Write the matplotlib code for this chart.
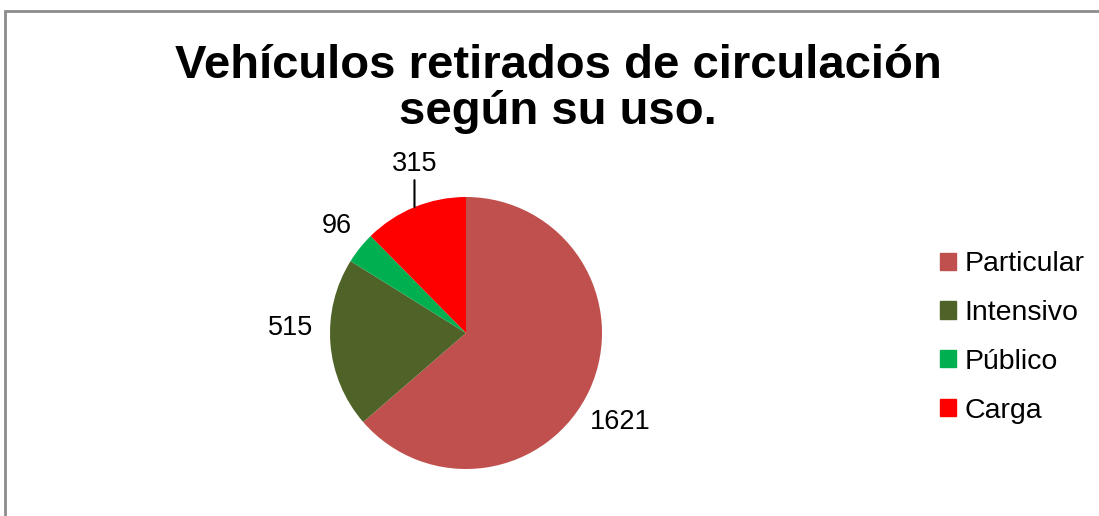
import matplotlib.pyplot as plt
import matplotlib.patches as mpatches
import numpy as np

plt.rcParams['font.family'] = ['Liberation Sans', 'DejaVu Sans']

# datos
categorias = ['Particular', 'Intensivo', 'Público', 'Carga']
vehiculos = [1621, 515, 96, 315]
colores = ['#C0504D', '#4F6228', '#00B050', '#FF0000']

titulo = 'Vehículos retirados de circulación\nsegún su uso.'

W, H = 1099, 516
fig = plt.figure(figsize=(W / 100, H / 100), dpi=100)

# marco gris (cortado a la derecha y abajo)
fig.patches.append(mpatches.Rectangle((5 / W, -0.1), 1.2, (H - 11) / H + 0.1,
                                      transform=fig.transFigure, fill=False,
                                      edgecolor='#8c8c8c', lw=2))

fig.text(558 / W, 1 - 89 / H, titulo, ha='center', va='center',
         fontsize=34, fontweight='bold', linespacing=1.06)

# pastel
cx, cy, r = 466, 333, 136
ax = fig.add_axes([(cx - r) / W, (H - cy - r) / H, 2 * r / W, 2 * r / H])
wedges, _ = ax.pie(vehiculos, colors=colores, startangle=90, counterclock=False,
                   radius=1)
ax.set_xlim(-1, 1)
ax.set_ylim(-1, 1)
ax.axis('off')

# etiquetas
ajuste_ang = [-5.5, -6, -1, 0]
dist = [1.31, 1.29, 1.23, 1.24]
for i, w in enumerate(wedges):
    mid = np.deg2rad((w.theta1 + w.theta2) / 2 + ajuste_ang[i])
    x, y = dist[i] * np.cos(mid), dist[i] * np.sin(mid)
    if categorias[i] == 'Carga':
        ex, ey = np.cos(mid), np.sin(mid)
        ax.annotate(str(vehiculos[i]), xy=(ex, ey), xytext=(ex, dist[i]),
                    ha='center', va='center', fontsize=19.5,
                    arrowprops=dict(arrowstyle='-', lw=1.5, color='black',
                                    shrinkA=0, shrinkB=0),
                    annotation_clip=False)
    else:
        ax.text(x, y, str(vehiculos[i]), ha='center', va='center', fontsize=19.5)

handles = [mpatches.Patch(color=c) for c in colores]
fig.legend(handles, categorias, loc='center left',
           bbox_to_anchor=(940 / W, 1 - 337.5 / H), frameon=False,
           borderpad=0, borderaxespad=0,
           fontsize=20.5, handlelength=0.55, handleheight=0.55,
           handletextpad=0.3, labelspacing=0.8)

fig.savefig('out.png', dpi=100)
